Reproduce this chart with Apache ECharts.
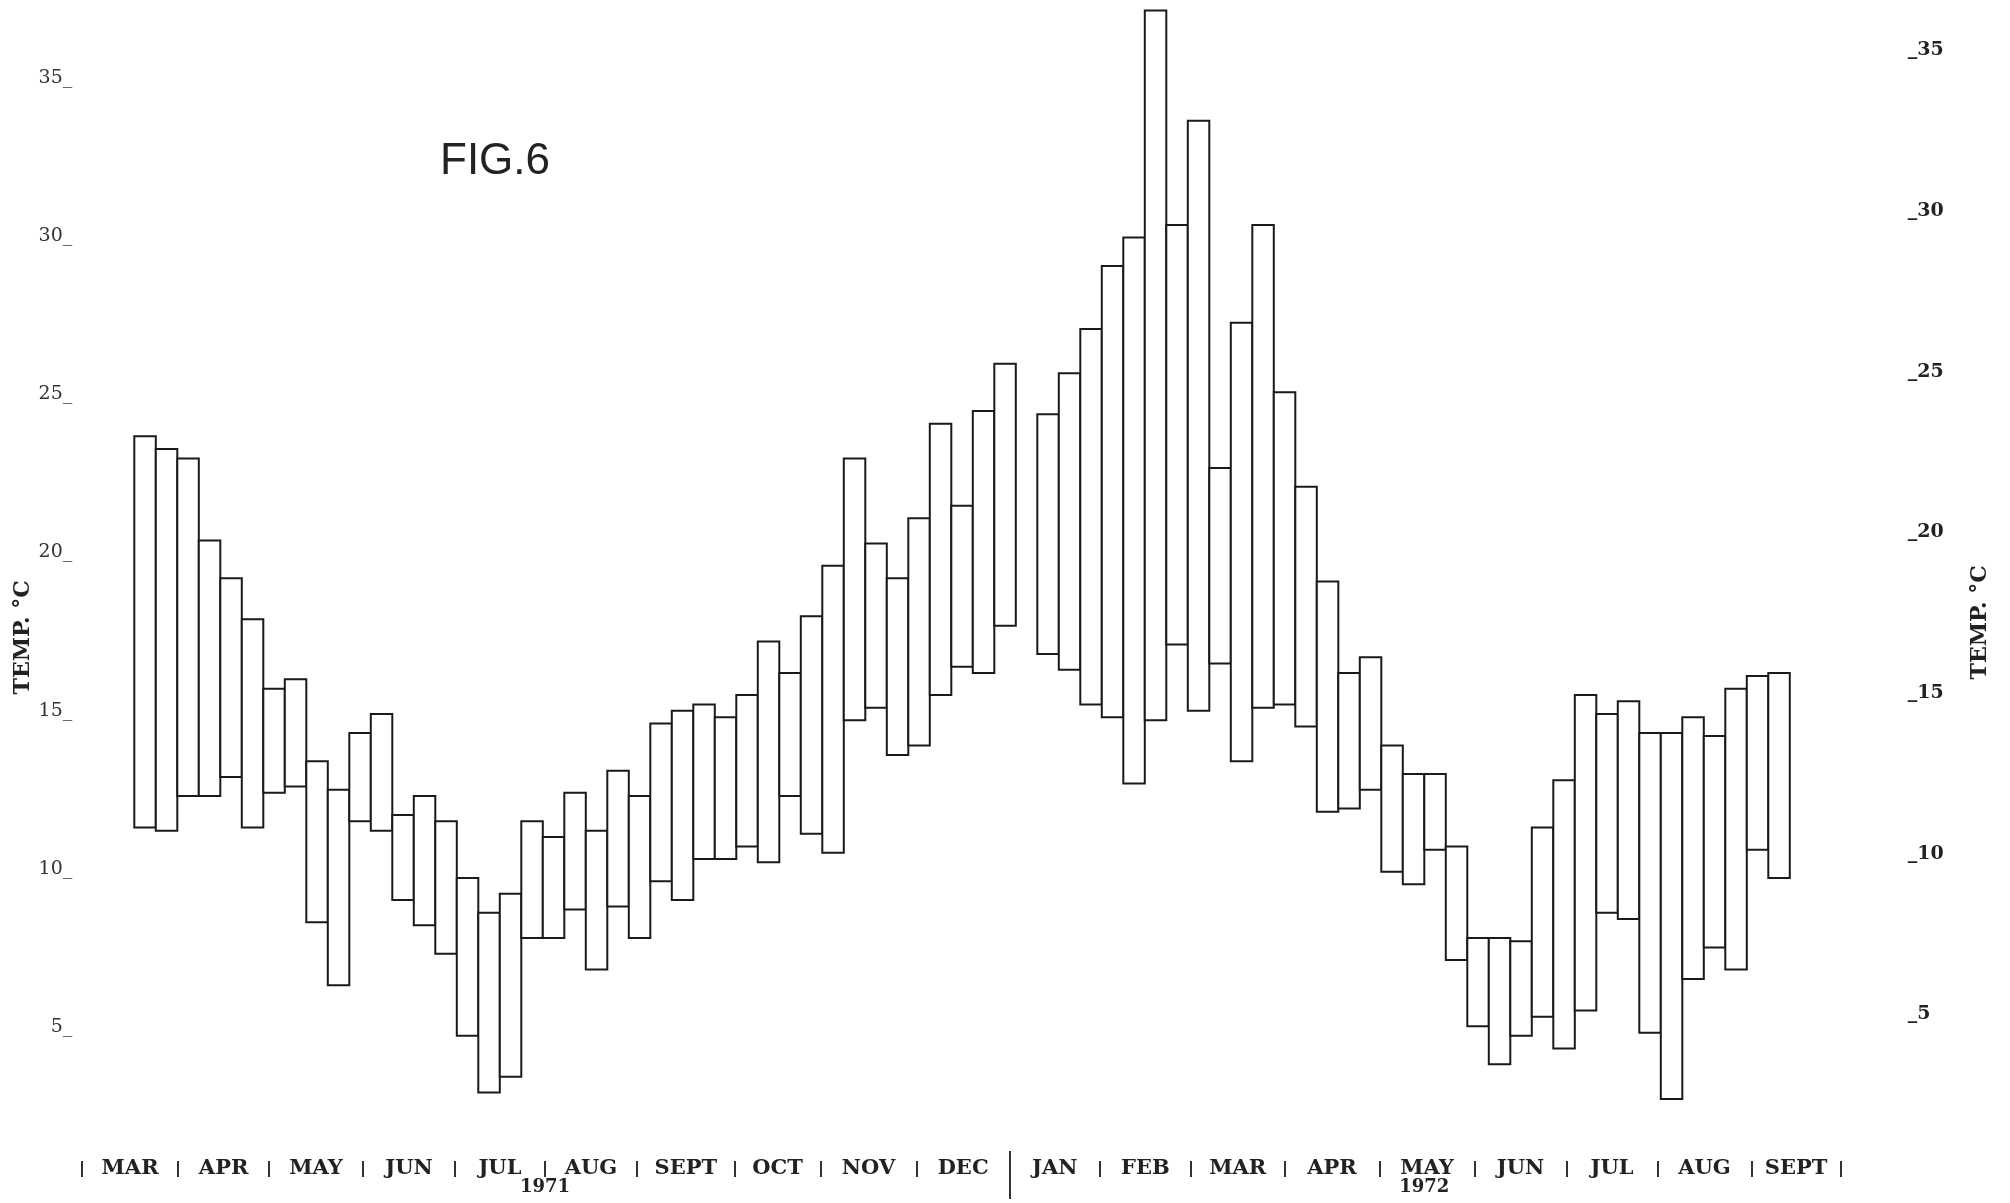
<!DOCTYPE html>
<html>
<head>
<meta charset="utf-8">
<script src="https://cdn.jsdelivr.net/npm/echarts@6/dist/echarts.min.js"></script>
<style>
html,body{margin:0;padding:0;background:#ffffff;}
#chart{width:2010px;height:1203px;}
</style>
</head>
<body>
<div id="chart"></div>
<script>
// Weekly temperature ranges (°C), March 1971 – December 1971
const high1971 = [23.4, 23.0, 22.7, 20.1, 18.9, 17.6, 15.4, 15.7, 13.1, 12.2,
                  14.0, 14.6, 11.4, 12.0, 11.2, 9.4, 8.3, 8.9, 11.2, 10.7,
                  12.1, 10.9, 12.8, 12.0, 14.3, 14.7, 14.9, 14.5, 15.2, 16.9,
                  15.9, 17.7, 19.3, 22.7, 20.0, 18.9, 20.8, 23.8, 21.2, 24.2, 25.7];
const low1971  = [11.0, 10.9, 12.0, 12.0, 12.6, 11.0, 12.1, 12.3, 8.0, 6.0,
                  11.2, 10.9, 8.7, 7.9, 7.0, 4.4, 2.6, 3.1, 7.5, 7.5,
                  8.4, 6.5, 8.5, 7.5, 9.3, 8.7, 10.0, 10.0, 10.4, 9.9,
                  12.0, 10.8, 10.2, 14.4, 14.8, 13.3, 13.6, 15.2, 16.1, 15.9, 17.4];
// Weekly temperature ranges (°C), January 1972 – September 1972
const high1972 = [24.1, 25.4, 26.8, 28.8, 29.7, 36.9, 30.1, 33.4, 22.4, 27.0,
                  30.1, 24.8, 21.8, 18.8, 15.9, 16.4, 13.6, 12.7, 12.7, 10.4,
                  7.5, 7.5, 7.4, 11.0, 12.5, 15.2, 14.6, 15.0, 14.0, 14.0,
                  14.5, 13.9, 15.4, 15.8, 15.9];
const low1972  = [16.5, 16.0, 14.9, 14.5, 12.4, 14.4, 16.8, 14.7, 16.2, 13.1,
                  14.8, 14.9, 14.2, 11.5, 11.6, 12.2, 9.6, 9.2, 10.3, 6.8,
                  4.7, 3.5, 4.4, 5.0, 4.0, 5.2, 8.3, 8.1, 4.5, 2.4,
                  6.2, 7.2, 6.5, 10.3, 9.4];
// one missing week between the two years
const missingWeeks = 1;

// Calendar (in week units counted from the first plotted week)
const monthNames  = ['MAR','APR','MAY','JUN','JUL','AUG','SEPT','OCT','NOV','DEC',
                     'JAN','FEB','MAR','APR','MAY','JUN','JUL','AUG','SEPT'];
const monthBounds = [-2.43, 2.04, 6.27, 10.63, 14.92, 19.09, 23.39, 27.92, 31.91, 36.39,
                     40.71, 44.91, 49.14, 53.5, 57.91, 62.33, 66.62, 70.85, 75.21, 79.38];
const yearDividerIndex = 10;
const yearNames   = ['1971', '1972'];
const yearLabelAt = [19.1, 60.0];
const tempTicks   = [5, 10, 15, 20, 25, 30, 35];

// ---- build data for the library ----
const bars = [];
high1971.forEach((h, i) => bars.push([i, low1971[i], h]));
const start1972 = high1971.length + missingWeeks;
high1972.forEach((h, i) => bars.push([start1972 + i, low1972[i], h]));

const monthMid = [];
for (let i = 0; i < monthNames.length; i++) {
  monthMid.push(+((monthBounds[i] + monthBounds[i + 1]) / 2).toFixed(3));
}
const shortBounds = monthBounds.filter((_, i) => i !== yearDividerIndex);
const longBounds = [monthBounds[yearDividerIndex]];

const serif = 'DejaVu Serif';
const xBase = {
  type: 'value', gridIndex: 0, position: 'bottom', min: -4, max: 81,
  splitLine: {show: false},
  axisLine: {show: false, onZero: false}
};

const chart = echarts.init(document.getElementById('chart'), null, {renderer: 'canvas'});
chart.setOption({
  animation: false,
  backgroundColor: '#ffffff',
  title: {
    text: 'FIG.6', left: 440, top: 140, padding: 0,
    textStyle: {fontFamily: 'Liberation Sans', fontSize: 44, fontWeight: 'normal', color: '#222'}
  },
  grid: {left: 48.3, right: 134.2, top: 4.1, bottom: 28.4, containLabel: false, outerBoundsMode: 'none'},
  xAxis: [
    Object.assign({}, xBase, {
      offset: -20,
      axisTick: {show: false},
      axisLabel: {
        show: true, customValues: monthMid, margin: 14, verticalAlign: 'middle',
        fontFamily: serif, fontWeight: 'bold', fontSize: 21, color: '#222',
        formatter: v => { const k = monthMid.findIndex(m => Math.abs(m - v) < 1e-6); return k >= 0 ? monthNames[k] : ''; }
      }
    }),
    Object.assign({}, xBase, {
      offset: -13.6,
      axisTick: {show: true, customValues: shortBounds, length: 16, inside: false, lineStyle: {color: '#333', width: 2}},
      axisLabel: {show: false}
    }),
    Object.assign({}, xBase, {
      offset: -23.6,
      axisTick: {show: true, customValues: longBounds, length: 48, inside: false, lineStyle: {color: '#333', width: 2}},
      axisLabel: {show: false}
    }),
    Object.assign({}, xBase, {
      offset: -20,
      axisTick: {show: false},
      axisLabel: {
        show: true, customValues: yearLabelAt, margin: 33, verticalAlign: 'middle',
        fontFamily: serif, fontWeight: 'bold', fontSize: 18, color: '#222',
        formatter: v => { const k = yearLabelAt.findIndex(m => Math.abs(m - v) < 1e-6); return k >= 0 ? yearNames[k] : ''; }
      }
    })
  ],
  yAxis: [
    {
      type: 'value', gridIndex: 0, position: 'left', min: 0, max: 37.1, show: false,
      splitLine: {show: false}, axisLine: {show: false, onZero: false}
    },
    {
      type: 'value', gridIndex: 0, position: 'left', min: 0.332, max: 37.338, offset: -25,
      splitLine: {show: false},
      axisLine: {show: false, onZero: false},
      axisTick: {show: false},
      axisLabel: {
        show: true, customValues: tempTicks, margin: 1,
        fontFamily: serif, fontSize: 19, color: '#333',
        formatter: v => v + '_'
      },
      name: 'TEMP. °C', nameLocation: 'middle', nameRotate: 90, nameGap: 39, nameMoveOverlap: false,
      nameTextStyle: {fontFamily: serif, fontWeight: 'bold', fontSize: 22, color: '#222', padding: [0, 96, 0, 0]}
    },
    {
      type: 'value', gridIndex: 0, position: 'right', min: 0.019, max: 36.438, offset: 31,
      splitLine: {show: false},
      axisLine: {show: false, onZero: false},
      axisTick: {show: false},
      axisLabel: {
        show: true, customValues: tempTicks, margin: 1,
        fontFamily: serif, fontWeight: 'bold', fontSize: 19, color: '#222',
        formatter: v => '_' + v
      },
      name: 'TEMP. °C', nameLocation: 'middle', nameRotate: 90, nameGap: 62, nameMoveOverlap: false,
      nameTextStyle: {fontFamily: serif, fontWeight: 'bold', fontSize: 22, color: '#222', padding: [0, 66, 0, 0]}
    }
  ],
  series: [{
    type: 'custom',
    name: 'Weekly temperature range',
    xAxisIndex: 0,
    yAxisIndex: 0,
    encode: {x: 0, y: [1, 2]},
    data: bars,
    renderItem: function (params, api) {
      const w = api.value(0), lo = api.value(1), hi = api.value(2);
      const p1 = api.coord([w, hi]);
      const p2 = api.coord([w + 1, lo]);
      return {
        type: 'rect',
        shape: {x: p1[0], y: p1[1], width: p2[0] - p1[0], height: p2[1] - p1[1]},
        style: {fill: '#ffffff', stroke: '#1a1a1a', lineWidth: 2}
      };
    }
  }]
});
</script>
</body>
</html>
